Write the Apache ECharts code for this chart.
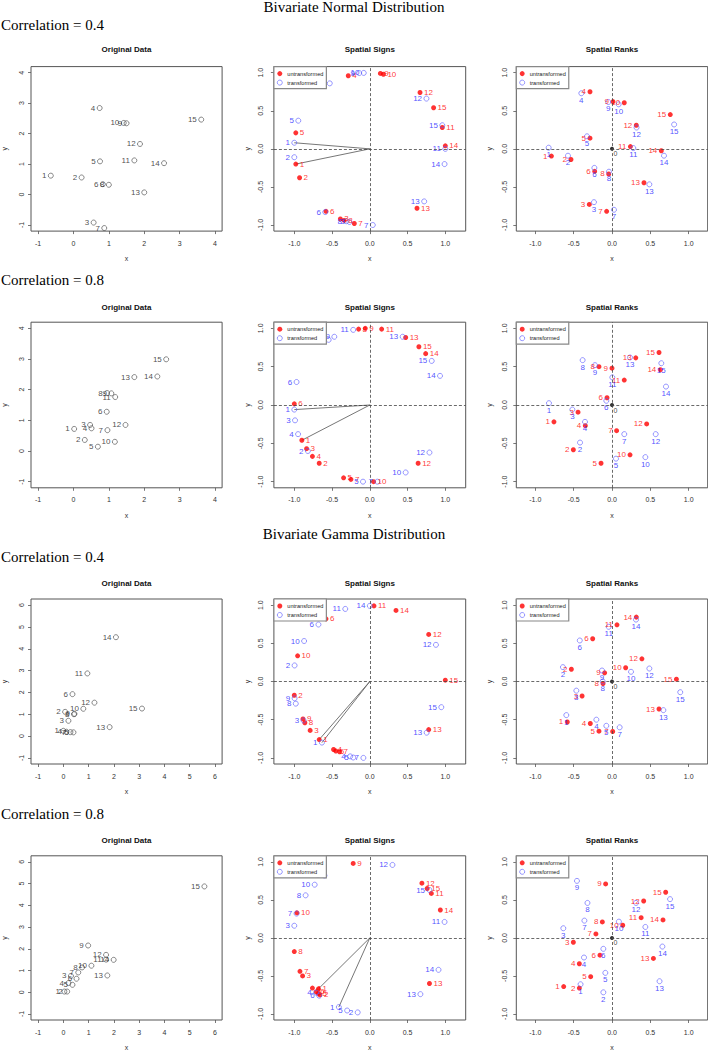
<!DOCTYPE html>
<html><head><meta charset="utf-8">
<script src="https://cdn.jsdelivr.net/npm/echarts@6/dist/echarts.min.js"></script>
<style>html,body{margin:0;padding:0;background:#fff}#c{width:708px;height:1052px}</style>
</head><body><div id="c"></div>
<script>
// ---------- DATA ----------
// Bivariate Normal, correlation 0.4
const n04_orig = [[-0.64,0.62],[0.23,0.56],[0.57,-0.92],[0.74,2.84],[0.75,1.09],[0.83,0.34],[0.87,-1.10],[1.00,0.32],[1.50,2.34],[1.42,2.35],[1.72,1.12],[1.88,1.66],[2.00,0.07],[2.56,1.03],[3.61,2.46]];
const n04_signU = [[-0.98,-0.20],[-0.93,-0.38],[-0.39,-0.92],[-0.285,0.96],[-0.98,0.21],[-0.58,-0.82],[-0.205,-0.98],[-0.34,-0.94],[0.14,0.99],[0.18,0.98],[0.96,0.28],[0.665,0.74],[0.625,-0.78],[1.0,0.04],[0.845,0.54]];
const n04_signT = [[-1.0,0.08],[-1.0,-0.11],[-0.27,-0.96],[-0.53,0.86],[-0.947,0.37],[-0.59,-0.83],[0.04,-1.0],[-0.31,-0.95],[-0.14,0.995],[-0.08,0.997],[1.0,0.0],[0.75,0.66],[0.72,-0.69],[0.99,-0.2],[0.96,0.31]];
const n04_rankU = [[-0.79,-0.095],[-0.535,-0.14],[-0.296,-0.73],[-0.287,0.75],[-0.287,0.14],[-0.226,-0.295],[-0.07,-0.82],[-0.043,-0.33],[0.013,0.62],[0.16,0.605],[0.24,0.03],[0.317,0.31],[0.417,-0.445],[0.643,-0.025],[0.76,0.45]];
const n04_rankT = [[-0.826,0.015],[-0.574,-0.09],[-0.235,-0.70],[-0.40,0.73],[-0.326,0.165],[-0.23,-0.25],[0.026,-0.80],[-0.04,-0.30],[-0.048,0.615],[0.087,0.585],[0.278,0.01],[0.32,0.28],[0.487,-0.466],[0.678,-0.09],[0.81,0.32]];
// Bivariate Normal, correlation 0.8
const n08_orig = [[0.02,0.72],[0.32,0.36],[0.47,0.85],[0.51,0.74],[0.69,0.14],[0.94,1.28],[0.96,0.68],[0.95,1.89],[1.07,1.88],[1.17,0.30],[1.18,1.76],[1.47,0.85],[1.72,2.41],[2.37,2.43],[2.62,2.99]];
const n08_signU = [[-0.90,-0.46],[-0.67,-0.76],[-0.837,-0.57],[-0.76,-0.67],[-0.347,-0.95],[-1.0,0.015],[-0.25,-0.97],[-0.148,0.99],[-0.06,1.0],[0.05,-1.0],[0.157,0.99],[0.64,-0.76],[0.475,0.88],[0.74,0.67],[0.65,0.76]];
const n08_signT = [[-1.0,-0.06],[-0.82,-0.6],[-0.99,-0.2],[-0.95,-0.38],[-0.09,-1.0],[-0.97,0.30],[0.10,-1.0],[-0.545,0.85],[-0.47,0.89],[0.475,-0.88],[-0.22,0.98],[0.79,-0.62],[0.435,0.89],[0.93,0.38],[0.82,0.575]];
const n08_rankU = [[-0.757,-0.22],[-0.504,-0.584],[-0.443,-0.094],[-0.348,-0.27],[-0.143,-0.76],[-0.065,0.095],[0.06,-0.335],[-0.17,0.50],[0.0,0.48],[0.235,-0.65],[0.16,0.325],[0.452,-0.247],[0.31,0.615],[0.63,0.46],[0.613,0.685]];
const n08_rankT = [[-0.822,0.024],[-0.417,-0.49],[-0.517,-0.06],[-0.352,-0.22],[0.052,-0.70],[-0.074,0.055],[0.16,-0.38],[-0.383,0.585],[-0.222,0.52],[0.435,-0.68],[0.004,0.36],[0.57,-0.38],[0.235,0.62],[0.704,0.24],[0.643,0.545]];
// Bivariate Gamma, correlation 0.4
const g04_orig = [[0.0,0.24],[0.07,1.11],[0.2,0.70],[0.12,0.2],[0.4,0.17],[0.36,1.92],[0.28,0.18],[0.42,1.0],[0.44,1.02],[0.79,1.25],[0.95,2.87],[1.23,1.53],[1.83,0.41],[2.08,4.53],[3.11,1.26]];
const g04_signU = [[-0.67,-0.76],[-1.0,-0.18],[-0.79,-0.64],[-0.48,-0.89],[-0.45,-0.91],[-0.58,0.82],[-0.40,-0.92],[-0.86,-0.54],[-0.885,-0.49],[-0.956,0.336],[0.055,0.99],[0.78,0.616],[0.78,-0.63],[0.347,0.93],[1.0,0.017]];
const g04_signT = [[-0.634,-0.80],[-0.996,0.21],[-0.877,-0.51],[-0.26,-0.98],[-0.22,-0.995],[-0.68,0.746],[-0.085,-1.0],[-0.98,-0.29],[-0.996,-0.22],[-0.87,0.53],[-0.325,0.95],[0.876,0.48],[0.753,-0.67],[0.0,0.99],[0.947,-0.336]];
const g04_rankU = [[-0.583,-0.53],[-0.53,0.16],[-0.39,-0.19],[-0.283,-0.55],[-0.17,-0.65],[-0.252,0.56],[0.009,-0.655],[-0.117,-0.026],[-0.096,0.113],[0.178,0.18],[0.065,0.742],[0.39,0.297],[0.613,-0.36],[0.317,0.843],[0.84,0.03]];
const g04_rankT = [[-0.596,-0.44],[-0.64,0.188],[-0.465,-0.12],[-0.204,-0.50],[-0.074,-0.58],[-0.42,0.537],[0.1,-0.60],[-0.12,0.0],[-0.13,0.144],[0.248,0.127],[-0.043,0.716],[0.487,0.17],[0.67,-0.375],[0.313,0.81],[0.89,-0.14]];
// Bivariate Gamma, correlation 0.8
const g08_orig = [[0.04,0.03],[0.15,0.03],[0.30,0.75],[0.20,0.42],[0.36,0.34],[0.52,0.62],[0.59,0.91],[0.74,1.14],[0.98,2.15],[1.11,1.22],[1.69,1.50],[1.69,1.72],[1.74,0.77],[1.99,1.49],[5.58,4.87]];
const g08_signU = [[-0.68,-0.67],[-0.66,-0.75],[-0.89,-0.50],[-0.76,-0.66],[-0.68,-0.73],[-0.71,-0.71],[-0.925,-0.44],[-1.0,-0.18],[-0.22,0.98],[-0.965,0.33],[0.815,0.585],[0.69,0.72],[0.79,-0.60],[0.934,0.367],[0.76,0.65]];
const g08_signT = [[-0.41,-0.91],[-0.16,-0.98],[-1.0,0.16],[-0.71,-0.72],[-0.30,-0.955],[-0.67,-0.76],[-0.97,0.32],[-0.85,0.56],[-0.60,0.82],[-0.73,0.70],[0.99,0.21],[0.30,0.96],[0.67,-0.74],[0.91,-0.42],[0.79,0.63]];
const g08_rankU = [[-0.63,-0.64],[-0.426,-0.66],[-0.504,-0.057],[-0.426,-0.34],[-0.278,-0.51],[-0.157,-0.227],[-0.21,0.052],[-0.126,0.21],[-0.083,0.71],[0.14,0.166],[0.38,0.266],[0.413,0.485],[0.54,-0.27],[0.665,0.236],[0.70,0.60]];
const g08_rankT = [[-0.41,-0.61],[-0.113,-0.716],[-0.635,0.127],[-0.365,-0.258],[-0.087,-0.46],[-0.113,-0.144],[-0.36,0.227],[-0.32,0.46],[-0.457,0.75],[0.09,0.214],[0.435,0.144],[0.313,0.46],[0.62,-0.57],[0.657,-0.114],[0.757,0.51]];

// tick labels
const origTicks4 = [-1,0,1,2,3,4];
const origTicks6 = [-1,0,1,2,3,4,5,6];
const unitTicks = [-1,-0.5,0,0.5,1];
const panelTitles = ['Original Data','Spatial Signs','Spatial Ranks'];
const rowHeadings = ['Correlation = 0.4','Correlation = 0.8','Correlation = 0.4','Correlation = 0.8'];
const distTitles = ['Bivariate Normal Distribution','Bivariate Gamma Distribution'];
const legendNames = ['untransformed','transformed'];

// ---------- LAYOUT ----------
const FONT = '"Liberation Sans", Arial, sans-serif';
const SERIF = '"Liberation Serif", "Times New Roman", serif';
const RED = '#ff0000', BLUE = '#2626ff', BLUEC = '#5a5aff';
const cols = [{left:30.9,width:191.2},{left:273.9,width:191.8},{left:516.3,width:191.4}];
const rows = [{top:66.6,height:164.5},{top:322.2,height:165.6},{top:599,height:165},{top:855.8,height:165}];
const titleY = [49.5,307.5,583.3,840.3];
const headY = [25,280,557,814];
const distY = [7,534];
const yMargins = [6.5,9.5,8.5];

const rowsData = [
  {orig:n04_orig, sU:n04_signU, sT:n04_signT, rU:n04_rankU, rT:n04_rankT, oTicks:origTicks4, oMin:-1.2, oMax:4.2},
  {orig:n08_orig, sU:n08_signU, sT:n08_signT, rU:n08_rankU, rT:n08_rankT, oTicks:origTicks4, oMin:-1.2, oMax:4.2},
  {orig:g04_orig, sU:g04_signU, sT:g04_signT, rU:g04_rankU, rT:g04_rankT, oTicks:origTicks6, oMin:-1.28, oMax:6.28},
  {orig:g08_orig, sU:g08_signU, sT:g08_signT, rU:g08_rankU, rT:g08_rankT, oTicks:origTicks6, oMin:-1.28, oMax:6.28}
];

const fmtInt = v => String(Math.round(v));
const fmt1 = v => (Math.abs(v) < 1e-9 ? 0 : v).toFixed(1);
const idxLabel = p => String(p.dataIndex + 1);

function axisCfg(g, range, ticks, f, name, margin, gap, isY){
  return {
    gridIndex:g, type:'value', min:range[0], max:range[1], position: isY ? 'left' : 'bottom',
    axisLine:{show:false, onZero:false}, splitLine:{show:false},
    axisTick:{show:true, inside:false, length:3, customValues:ticks, lineStyle:{color:'#555', width:0.8}},
    axisLabel:{show:true, customValues:ticks, formatter:f, fontSize:7, color:'#333', fontFamily:FONT, margin:margin, rotate: isY ? 90 : 0},
    name:name, nameLocation:'middle', nameGap:gap, nameRotate: isY ? 90 : 0,
    nameTextStyle:{fontSize:7, color:'#333', fontFamily:FONT}
  };
}

const dashed = {
  silent:true, symbol:['none','none'], label:{show:false}, animation:false,
  lineStyle:{type:[3,2], color:'#444', width:0.8},
  data:[{xAxis:0},{yAxis:0}]
};

const option = {animation:false, backgroundColor:'#fff', grid:[], xAxis:[], yAxis:[], series:[], legend:[], graphic:[]};

rowsData.forEach((R, r) => {
  for (let c = 0; c < 3; c++){
    const g = r*3 + c;
    option.grid.push({left:cols[c].left, top:rows[r].top, width:cols[c].width, height:rows[r].height,
      show:true, borderColor:'#555', borderWidth:1, backgroundColor:'rgba(0,0,0,0)'});
    let xr, yr, ticks, f;
    if (c === 0){ xr = [R.oMin,R.oMax]; yr = [R.oMin,R.oMax]; ticks = R.oTicks; f = fmtInt; }
    else if (c === 1){ xr = [-1.27,1.27]; yr = [-1.08,1.08]; ticks = unitTicks; f = fmt1; }
    else { xr = [-1.248,1.248]; yr = [-1.08,1.08]; ticks = unitTicks; f = fmt1; }
    option.xAxis.push(axisCfg(g, xr, ticks, f, 'x', 8.5, 24, false));
    option.yAxis.push(axisCfg(g, yr, ticks, f, 'y', yMargins[c], 23, true));

    const cx = cols[c].left + cols[c].width/2;
    option.graphic.push({type:'text', x:cx, y:titleY[r], z:100, silent:true,
      style:{text:panelTitles[c], font:'bold 8px ' + FONT, fill:'#111', textAlign:'center', textVerticalAlign:'middle'}});

    const common = {xAxisIndex:g, yAxisIndex:g, silent:true, emphasis:{disabled:true}};
    if (c === 0){
      option.series.push(Object.assign({type:'scatter', data:R.orig, symbol:'circle', symbolSize:5,
        itemStyle:{color:'rgba(255,255,255,0)', borderColor:'#444', borderWidth:0.8},
        label:{show:true, position:'left', distance:1.5, formatter:idxLabel, fontSize:8, color:'#222', fontFamily:FONT}}, common));
    } else {
      const U = c === 1 ? R.sU : R.rU;
      const T = c === 1 ? R.sT : R.rT;
      if (c === 1){
        option.series.push(Object.assign({type:'line', data:[U[0],[0,0],T[0]], symbol:'none', z:1,
          lineStyle:{color:'#666', width:0.9}}, common));
      }
      option.series.push(Object.assign({type:'scatter', name:legendNames[0], data:U, symbol:'circle', symbolSize:5, z:3,
        itemStyle:{color:RED},
        label:{show:true, position: c === 1 ? 'right' : 'left', distance:1.5, formatter:idxLabel, fontSize:8, color:RED, fontFamily:FONT},
        markLine:dashed}, common));
      option.series.push(Object.assign({type:'scatter', name:legendNames[1], data:T, symbol:'circle', symbolSize:5, z:3,
        itemStyle:{color:'rgba(255,255,255,0)', borderColor:BLUEC, borderWidth:0.8},
        label:{show:true, position: c === 1 ? 'left' : 'bottom', distance: c === 1 ? 1.5 : 0, formatter:idxLabel, fontSize:8, color:BLUE, fontFamily:FONT}}, common));
      if (c === 2){
        option.series.push(Object.assign({type:'scatter', data:[[0,0]], symbol:'circle', symbolSize:4, z:4,
          itemStyle:{color:'#000'},
          label:{show:true, position:'inside', offset:[3.5,5], formatter:'0', fontSize:7, color:'#111', fontFamily:FONT}}, common));
      }
      option.legend.push({
        left:cols[c].left, top:rows[r].top, orient:'vertical', selectedMode:false,
        padding:[3,3,2,3], itemGap:1, itemWidth:5, itemHeight:5,
        borderColor:'#888', borderWidth:1.2, backgroundColor:'#fff', z:20,
        textStyle:{fontSize:5.6, lineHeight:8, color:'#222', fontFamily:FONT},
        data:[
          {name:legendNames[0], icon:'circle', itemStyle:{color:RED, borderWidth:0}},
          {name:legendNames[1], icon:'circle', itemStyle:{color:'rgba(255,255,255,0)', borderColor:BLUEC, borderWidth:0.8}}
        ]
      });
    }
  }
  option.graphic.push({type:'text', x:1, y:headY[r], z:100, silent:true,
    style:{text:rowHeadings[r], font:'15px ' + SERIF, fill:'#000', textAlign:'left', textVerticalAlign:'middle'}});
});
distTitles.forEach((t, i) => {
  option.graphic.push({type:'text', x:354, y:distY[i], z:100, silent:true,
    style:{text:t, font:'15px ' + SERIF, fill:'#000', textAlign:'center', textVerticalAlign:'middle'}});
});

const chart = echarts.init(document.getElementById('c'), null, {renderer:'svg', width:708, height:1052});
chart.setOption(option);
</script>
</body></html>
